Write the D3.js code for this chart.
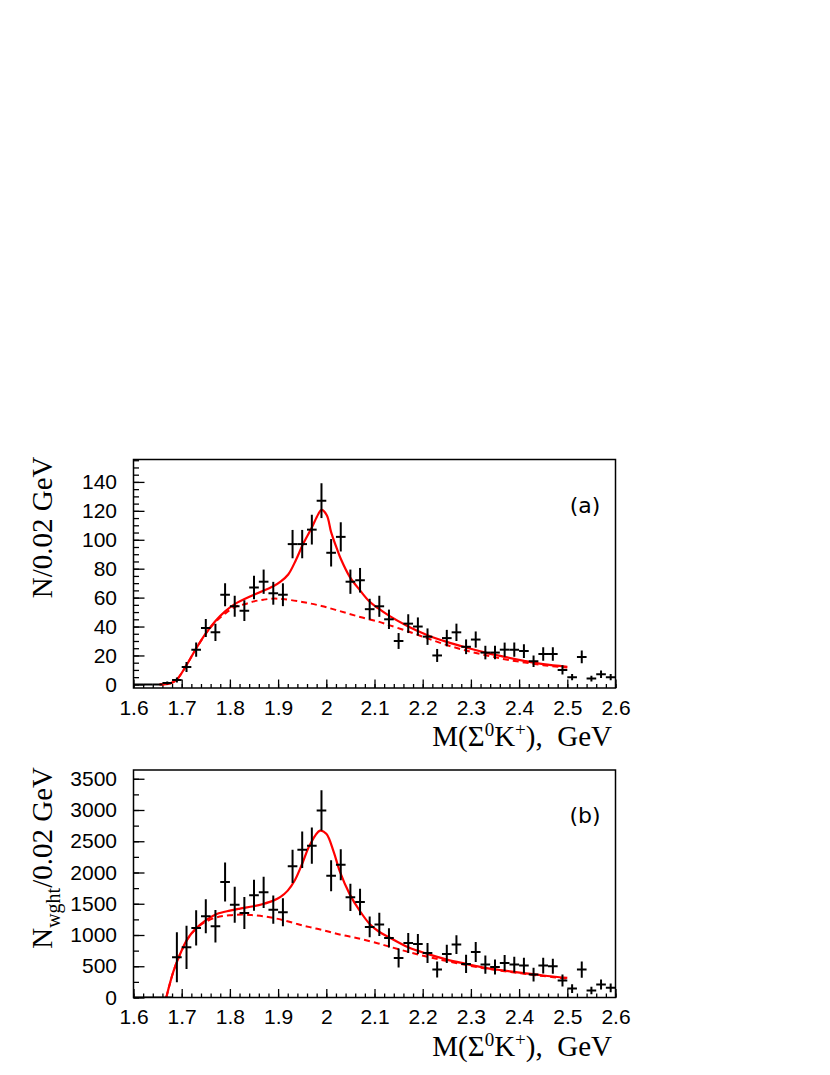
<!DOCTYPE html>
<html><head><meta charset="utf-8">
<script src="https://cdn.jsdelivr.net/npm/d3@7"></script>
<style>body{margin:0;background:#fff}</style>
</head><body>
<svg id="c" width="830" height="1075"></svg>
<script>
// ---------------- data ----------------
const binCenters = [1.61,1.63,1.65,1.67,1.69,1.71,1.73,1.75,1.77,1.79,1.81,1.83,1.85,1.87,1.89,1.91,1.93,1.95,1.97,1.99,
  2.01,2.03,2.05,2.07,2.09,2.11,2.13,2.15,2.17,2.19,2.21,2.23,2.25,2.27,2.29,2.31,2.33,2.35,2.37,2.39,
  2.41,2.43,2.45,2.47,2.49,2.51,2.53,2.55,2.57,2.59];
const binHalfWidth = 0.01;

const countsA = [0,0,0,1,3,12,24,39,36,62,54,51,67,71,63,62,97,97,107,127,
  91,102,71,72,52,54,45,30,42,40,33,20,32,36,26,31,22,22,24,24,
  23,16,21,21,10,5,19,4,7,5];
const errorsA = [0,0,0,1,1.7,3.5,4.9,6.2,6,7.9,7.3,7.1,8.2,8.4,7.9,7.9,9.8,9.8,10.3,12,
  9.5,10.1,8.4,8.5,7.2,7.3,6.7,5.5,6.5,6.3,5.7,4.5,5.7,6,5.1,5.6,4.7,4.7,4.9,4.9,
  4.8,4,4.6,4.6,3.2,2.2,4.4,2,2.6,2.2];

const countsB = [0,0,0,0,644,804,1114,1300,1140,1849,1486,1353,1635,1683,1406,1363,2099,2365,2429,2994,
  1950,2126,1604,1529,1130,1170,954,634,874,858,714,448,698,847,538,730,527,490,554,527,
  511,368,511,500,272,144,448,112,208,155];
const errorsB = [0,0,0,0,400,346,282,272,260,312,288,256,248,250,226,224,266,293,290,322,
  248,248,218,213,165,186,155,152,160,160,160,128,146,149,146,160,146,120,128,125,
  125,110,125,120,95,70,130,60,80,70];

// fit curves (x, value)
const fitA_x = [1.654,1.676,1.69,1.71,1.73,1.75,1.77,1.79,1.81,1.85,1.89,1.905,1.921,1.937,1.952,1.97,1.983,1.99,2.001,2.01,2.022,2.03,2.049,2.07,2.089,2.108,2.13,2.17,2.21,2.25,2.29,2.33,2.37,2.41,2.45,2.50];
const fitA_y = [0,0.7,3.4,13.3,24.8,35.2,43.8,50.5,55.5,62,67.8,71,76,86,97.2,108.5,117.5,120.7,117,105.3,93.8,86.9,74.2,65,57.5,52.5,47.5,40,34,29.4,25.5,22,19,16.3,14,12.2];
const bgA_x = [1.654,1.676,1.69,1.71,1.73,1.75,1.77,1.79,1.81,1.83,1.85,1.87,1.89,1.91,1.95,1.99,2.03,2.07,2.11,2.13,2.17,2.21,2.25,2.29,2.33,2.37,2.41,2.45,2.49,2.50];
const bgA_y = [0,0.7,3.4,13.3,24.8,35,43.2,49,53.5,55.4,57.4,58.6,59.3,59,57,54.2,50.5,46.6,43.2,41,36.6,31.8,27.2,23.4,20.2,17.4,15.2,13.3,11.9,11.6];

const fitB_x = [1.668,1.683,1.697,1.712,1.731,1.752,1.773,1.80,1.821,1.849,1.869,1.89,1.905,1.92,1.935,1.95,1.966,1.987,2.0,2.015,2.028,2.049,2.07,2.091,2.108,2.13,2.17,2.21,2.25,2.29,2.33,2.37,2.41,2.45,2.50];
const fitB_y = [0,421,700,940,1114,1247,1337,1390,1422,1460,1497,1550,1610,1710,1880,2140,2445,2669,2620,2339,2019,1646,1380,1167,1060,964,804,698,607,538,474,430,390,352,314];
const bgB_x = [1.668,1.683,1.697,1.712,1.731,1.752,1.773,1.80,1.828,1.849,1.869,1.89,1.911,1.932,1.952,1.973,1.994,2.015,2.035,2.056,2.077,2.108,2.13,2.17,2.21,2.25,2.29,2.33,2.37,2.41,2.45,2.50];
const bgB_y = [0,421,700,927,1113,1220,1284,1316,1327,1316,1300,1273,1236,1193,1151,1113,1076,1034,996,964,927,865,815,730,652,583,520,465,420,380,343,300];

const xTickValues = [1.6,1.7,1.8,1.9,2.0,2.1,2.2,2.3,2.4,2.5,2.6];
const xTickLabels = ["1.6","1.7","1.8","1.9","2","2.1","2.2","2.3","2.4","2.5","2.6"];
const yTicksA = [0,20,40,60,80,100,120,140];
const yTicksB = [0,500,1000,1500,2000,2500,3000,3500];

// ---------------- drawing ----------------
const svg = d3.select("#c");
const LEFT = 133.5, RIGHT = 615.5;
const x = d3.scaleLinear().domain([1.6, 2.6]).range([LEFT, RIGHT]);

const panels = [
  {top:459.5, bottom:688, yDom:[-2.5,155.5], yTicks:yTicksA, yMinor:5, counts:countsA, errs:errorsA,
   fitX:fitA_x, fitY:fitA_y, bgX:bgA_x, bgY:bgA_y, tag:"(a)", id:"a"},
  {top:770, bottom:997.5, yDom:[0,3640], yTicks:yTicksB, yMinor:250, counts:countsB, errs:errorsB,
   fitX:fitB_x, fitY:fitB_y, bgX:bgB_x, bgY:bgB_y, tag:"(b)", id:"b"}
];

panels.forEach(p => {
  const y = d3.scaleLinear().domain(p.yDom).range([p.bottom, p.top]);
  const g = svg.append("g");
  const defs = svg.append("defs");
  defs.append("clipPath").attr("id","clip"+p.id).append("rect")
    .attr("x",LEFT).attr("y",p.top).attr("width",RIGHT-LEFT).attr("height",p.bottom-p.top);

  // minor x ticks
  const xMinor = d3.range(1.6, 2.6001, 0.02);
  g.append("g").attr("transform",`translate(0,${p.bottom})`)
    .call(d3.axisBottom(x).tickValues(xMinor).tickSize(-4).tickFormat(""))
    .call(s=>s.select(".domain").remove())
    .call(s=>s.selectAll("line").attr("stroke","#000").attr("stroke-width",1.3));
  // major x ticks
  g.append("g").attr("transform",`translate(0,${p.bottom})`)
    .call(d3.axisBottom(x).tickValues(xTickValues).tickSize(-8.5).tickPadding(12)
      .tickFormat((d,i)=>xTickLabels[i]))
    .call(s=>s.select(".domain").remove())
    .call(s=>s.selectAll("line").attr("stroke","#000").attr("stroke-width",1.3))
    .call(s=>s.selectAll("text").attr("fill","#000").style("font-family","'Liberation Sans',Arial,sans-serif").style("font-size","21px"));

  // minor y ticks
  const yMin = d3.range(0, p.yDom[1], p.yMinor);
  g.append("g").attr("transform",`translate(${LEFT},0)`)
    .call(d3.axisLeft(y).tickValues(yMin).tickSize(-5.5).tickFormat(""))
    .call(s=>s.select(".domain").remove())
    .call(s=>s.selectAll("line").attr("stroke","#000").attr("stroke-width",1.3));
  g.append("g").attr("transform",`translate(${LEFT},0)`)
    .call(d3.axisLeft(y).tickValues(p.yTicks).tickSize(-11).tickPadding(16.5).tickFormat(d3.format("d")))
    .call(s=>s.select(".domain").remove())
    .call(s=>s.selectAll("line").attr("stroke","#000").attr("stroke-width",1.3))
    .call(s=>s.selectAll("text").attr("fill","#000").style("font-family","'Liberation Sans',Arial,sans-serif").style("font-size","21px"));

  // curves
  const cg = g.append("g").attr("clip-path",`url(#clip${p.id})`);
  const line = d3.line().curve(d3.curveCatmullRom.alpha(0.5)).x(d=>x(d[0])).y(d=>y(d[1]));
  cg.append("path").datum(p.bgX.map((v,i)=>[v,p.bgY[i]]))
    .attr("d",line).attr("fill","none").attr("stroke","#ff0000").attr("stroke-width",2)
    .attr("stroke-dasharray","6,4");
  cg.append("path").datum(p.fitX.map((v,i)=>[v,p.fitY[i]]))
    .attr("d",line).attr("fill","none").attr("stroke","#ff0000").attr("stroke-width",2.2);

  // data crosses
  const pts = cg.append("g").selectAll("g").data(binCenters.map((c,i)=>({c, v:p.counts[i], e:p.errs[i]})))
    .join("g");
  pts.append("line").attr("x1",d=>x(d.c-binHalfWidth)).attr("x2",d=>x(d.c+binHalfWidth))
    .attr("y1",d=>y(d.v)).attr("y2",d=>y(d.v)).attr("stroke","#000").attr("stroke-width",2);
  pts.filter(d=>d.e>0).append("line").attr("x1",d=>x(d.c)).attr("x2",d=>x(d.c))
    .attr("y1",d=>y(d.v-d.e)).attr("y2",d=>y(d.v+d.e)).attr("stroke","#000").attr("stroke-width",2);

  // frame
  g.append("rect").attr("x",LEFT).attr("y",p.top).attr("width",RIGHT-LEFT).attr("height",p.bottom-p.top)
    .attr("fill","none").attr("stroke","#000").attr("stroke-width",1.5);

  // tag
  g.append("text").attr("x",585).attr("y",p.top+53).attr("text-anchor","middle")
    .style("font-family","'DejaVu Sans',sans-serif").style("font-size","22px").text(p.tag);

  // x title
  const xt = g.append("text").attr("x",612).attr("y",p.bottom+58).attr("text-anchor","end")
    .style("font-family","'Liberation Serif','Times New Roman',serif").style("font-size","29px");
  xt.append("tspan").text("M(Σ");
  xt.append("tspan").attr("dy",-10).style("font-size","19px").text("0");
  xt.append("tspan").attr("dy",10).text("K");
  xt.append("tspan").attr("dy",-10).style("font-size","19px").text("+");
  xt.append("tspan").attr("dy",10).text("),\u00a0\u00a0GeV");

  // y title
  const yt = g.append("text").attr("transform",`translate(52,${p.top-3}) rotate(-90)`)
    .attr("text-anchor","end")
    .style("font-family","'Liberation Serif','Times New Roman',serif").style("font-size","29px");
  if (p.id === "a") {
    yt.text("N/0.02 GeV");
  } else {
    yt.append("tspan").text("N");
    yt.append("tspan").attr("dy",8).style("font-size","20px").text("wght");
    yt.append("tspan").attr("dy",-8).text("/0.02 GeV");
  }
});
</script>
</body></html>
